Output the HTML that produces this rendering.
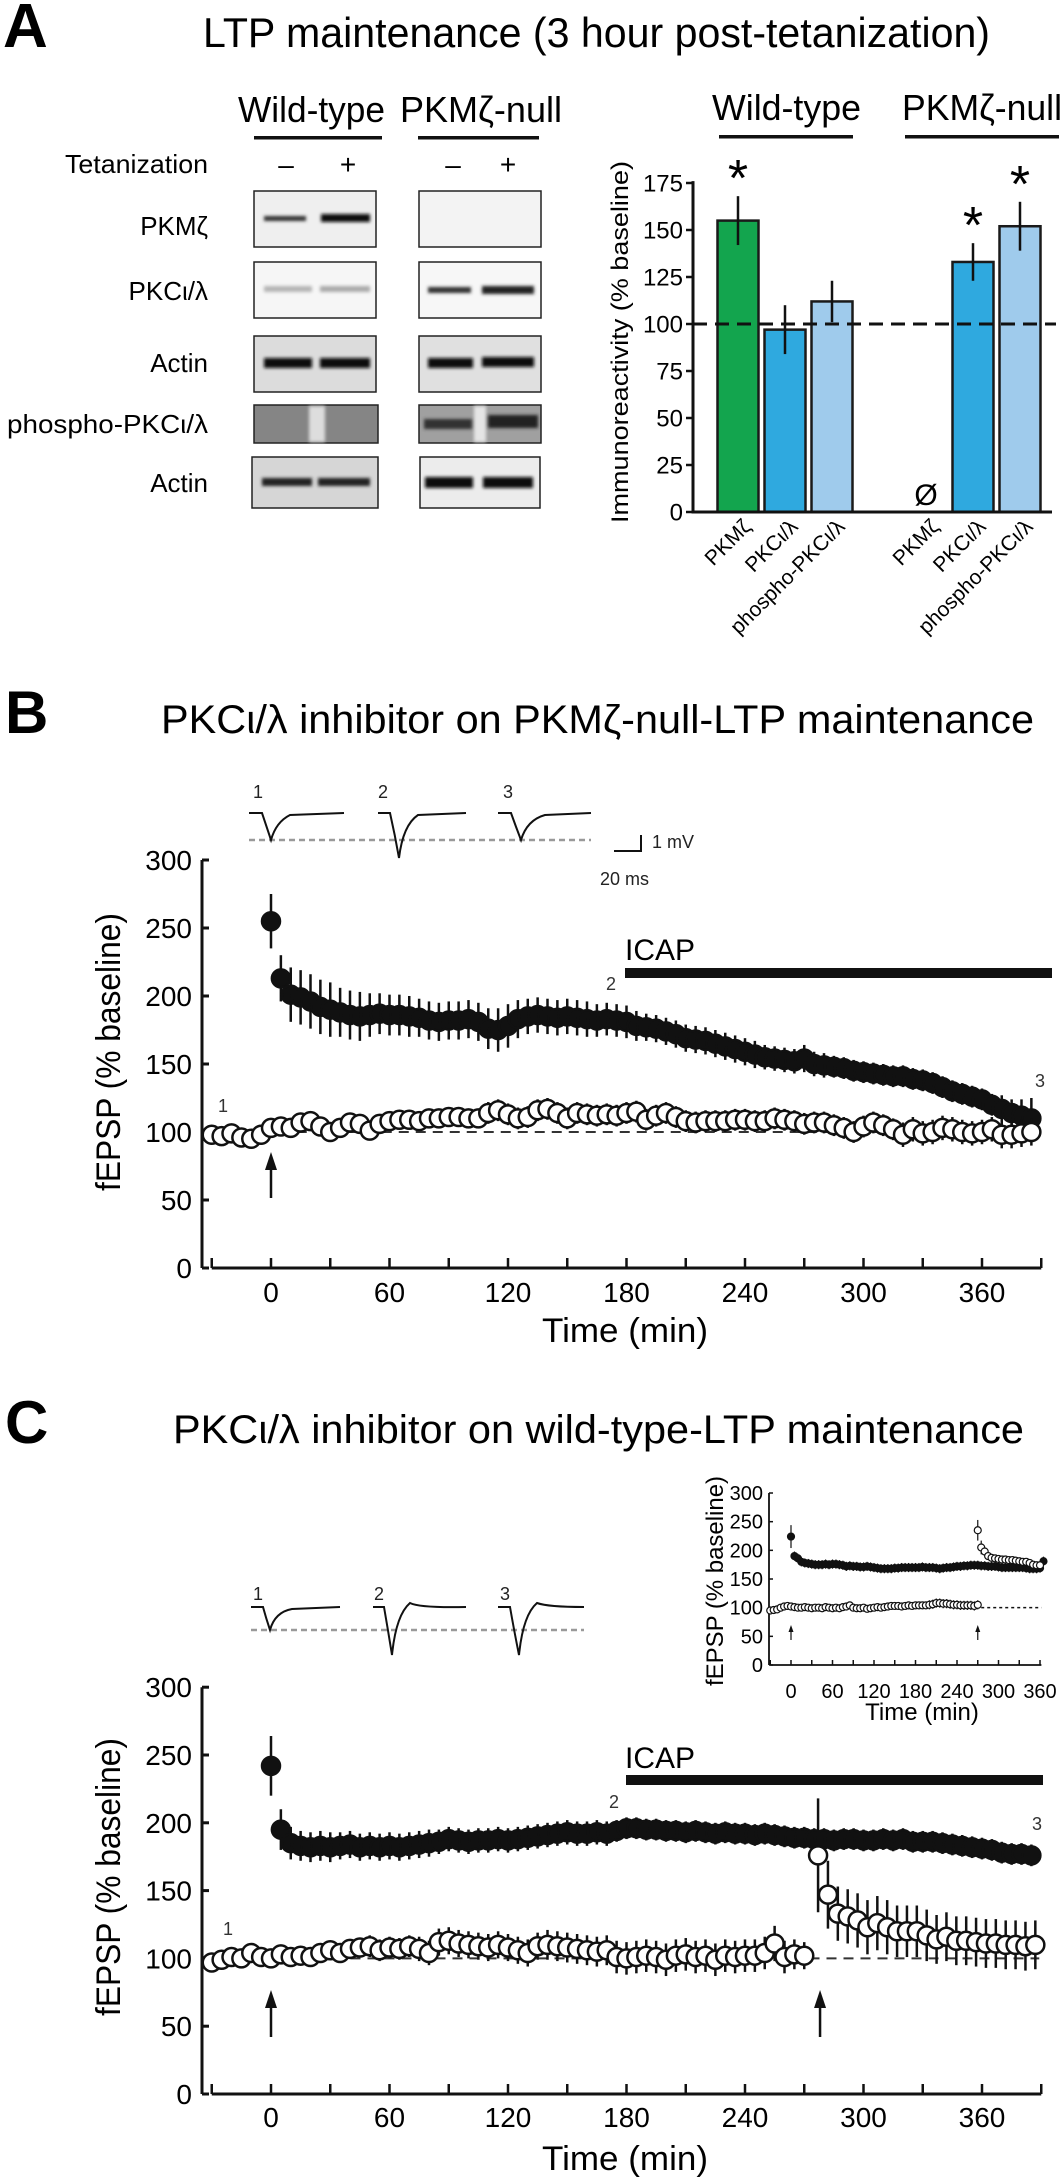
<!DOCTYPE html>
<html><head><meta charset="utf-8"><style>
html,body{margin:0;padding:0;background:#fff;}
svg{display:block;font-family:"Liberation Sans",sans-serif;}
</style></head><body>
<svg id="fig" xmlns="http://www.w3.org/2000/svg" width="1063" height="2180" viewBox="0 0 1063 2180">
<defs>
<filter id="blur2" x="-20%" y="-100%" width="140%" height="300%"><feGaussianBlur stdDeviation="1.6"/></filter>
</defs>
<text x="3" y="47" font-size="62" font-weight="bold">A</text>
<text x="203" y="47" font-size="42" textLength="787" lengthAdjust="spacingAndGlyphs">LTP maintenance (3 hour post-tetanization)</text>
<g>
<text x="238" y="122" font-size="36" textLength="147" lengthAdjust="spacingAndGlyphs">Wild-type</text>
<text x="400" y="122" font-size="36" textLength="162" lengthAdjust="spacingAndGlyphs">PKMζ-null</text>
<rect x="254" y="136" width="128" height="3.5" fill="#111"/>
<rect x="418" y="136" width="121" height="3.5" fill="#111"/>
<text x="208" y="173" font-size="26" text-anchor="end" textLength="143" lengthAdjust="spacingAndGlyphs">Tetanization</text>
<text x="286" y="174" font-size="28" text-anchor="middle">–</text>
<text x="348" y="174" font-size="28" text-anchor="middle">+</text>
<text x="453" y="174" font-size="28" text-anchor="middle">–</text>
<text x="508" y="174" font-size="28" text-anchor="middle">+</text>
<text x="208" y="235" font-size="26" text-anchor="end">PKMζ</text>
<text x="208" y="300" font-size="26" text-anchor="end">PKCι/λ</text>
<text x="208" y="372" font-size="26" text-anchor="end">Actin</text>
<text x="208" y="433" font-size="26" text-anchor="end" textLength="201" lengthAdjust="spacingAndGlyphs">phospho-PKCι/λ</text>
<text x="208" y="492" font-size="26" text-anchor="end">Actin</text>
<rect x="254" y="191" width="122" height="56" fill="#efefef" stroke="#222" stroke-width="1.5"/>
<rect x="264" y="216" width="42" height="5" fill="#333" filter="url(#blur2)"/>
<rect x="321" y="214" width="49" height="8" fill="#111" filter="url(#blur2)"/>
<rect x="419" y="191" width="122" height="56" fill="#f3f3f3" stroke="#222" stroke-width="1.5"/>
<rect x="254" y="262" width="122" height="56" fill="#f6f6f6" stroke="#222" stroke-width="1.5"/>
<rect x="264" y="286" width="48" height="6" fill="#b5b5b5" filter="url(#blur2)"/>
<rect x="320" y="286" width="50" height="6" fill="#aaa" filter="url(#blur2)"/>
<rect x="419" y="262" width="122" height="56" fill="#f7f7f7" stroke="#222" stroke-width="1.5"/>
<rect x="428" y="287" width="43" height="6" fill="#333" filter="url(#blur2)"/>
<rect x="482" y="286" width="52" height="8" fill="#222" filter="url(#blur2)"/>
<rect x="254" y="336" width="122" height="56" fill="#dcdcdc" stroke="#222" stroke-width="1.5"/>
<rect x="264" y="358" width="48" height="10" fill="#111" filter="url(#blur2)"/>
<rect x="320" y="358" width="50" height="10" fill="#111" filter="url(#blur2)"/>
<rect x="419" y="336" width="122" height="56" fill="#e0e0e0" stroke="#222" stroke-width="1.5"/>
<rect x="428" y="358" width="45" height="10" fill="#111" filter="url(#blur2)"/>
<rect x="482" y="357" width="52" height="10" fill="#111" filter="url(#blur2)"/>
<rect x="254" y="405" width="124" height="38" fill="#858585" stroke="#222" stroke-width="1.5"/>
<rect x="309" y="406" width="16" height="36" fill="#ddd" filter="url(#blur2)"/>
<rect x="419" y="405" width="122" height="38" fill="#a0a0a0" stroke="#222" stroke-width="1.5"/>
<rect x="474" y="406" width="12" height="36" fill="#e5e5e5" filter="url(#blur2)"/>
<rect x="424" y="419" width="48" height="10" fill="#333" filter="url(#blur2)"/>
<rect x="488" y="415" width="50" height="13" fill="#222" filter="url(#blur2)"/>
<rect x="252" y="457" width="126" height="51" fill="#d6d6d6" stroke="#222" stroke-width="1.5"/>
<rect x="262" y="478" width="50" height="8" fill="#222" filter="url(#blur2)"/>
<rect x="318" y="478" width="52" height="8" fill="#222" filter="url(#blur2)"/>
<rect x="420" y="457" width="120" height="51" fill="#ececec" stroke="#222" stroke-width="1.5"/>
<rect x="425" y="477" width="48" height="11" fill="#0a0a0a" filter="url(#blur2)"/>
<rect x="483" y="477" width="50" height="11" fill="#0a0a0a" filter="url(#blur2)"/>
</g>
<text x="712" y="120" font-size="36" textLength="149" lengthAdjust="spacingAndGlyphs">Wild-type</text>
<text x="902" y="120" font-size="36" textLength="160" lengthAdjust="spacingAndGlyphs">PKMζ-null</text>
<rect x="719" y="135" width="134" height="3.5" fill="#111"/>
<rect x="905" y="135" width="154" height="3.5" fill="#111"/>
<g id="barchart"></g>
<text x="5" y="733" font-size="60" font-weight="bold">B</text>
<text x="161" y="733" font-size="40" textLength="873" lengthAdjust="spacingAndGlyphs">PKCι/λ inhibitor on PKMζ-null-LTP maintenance</text>
<g fill="none" stroke="#111" stroke-width="2">
<line x1="249" y1="840" x2="591" y2="840" stroke="#999" stroke-width="2.5" stroke-dasharray="6 4"/>
<path d="M249,813 L262,813 Q266,825 271,840 Q276,822 290,815 L344,813"/>
<path d="M378,813 L390,813 Q395,835 399,858 Q403,825 418,815 L466,813"/>
<path d="M498,813 L511,813 Q516,827 521,840 Q527,820 545,815 L591,813"/>
<path d="M641,835 L641,851 L614,851"/>
</g>
<g font-size="18" fill="#222">
<text x="253" y="798">1</text>
<text x="378" y="798">2</text>
<text x="503" y="798">3</text>
<text x="652" y="848">1 mV</text>
<text x="600" y="885">20 ms</text>
</g>
<g id="plotB"></g>
<text x="5" y="1443" font-size="60" font-weight="bold">C</text>
<text x="173" y="1443" font-size="40" textLength="851" lengthAdjust="spacingAndGlyphs">PKCι/λ inhibitor on wild-type-LTP maintenance</text>
<g fill="none" stroke="#111" stroke-width="2">
<line x1="251" y1="1630" x2="584" y2="1630" stroke="#999" stroke-width="2.5" stroke-dasharray="6 4"/>
<path d="M251,1607 L263,1607 Q266,1618 270,1630 Q275,1612 292,1609 L340,1607"/>
<path d="M373,1607 L384,1607 Q388,1630 392,1655 Q396,1615 410,1603 Q420,1608 466,1607"/>
<path d="M498,1607 L510,1607 Q514,1630 519,1655 Q523,1615 537,1603 Q548,1607 584,1607"/>
</g>
<g font-size="18" fill="#222">
<text x="253" y="1600">1</text>
<text x="374" y="1600">2</text>
<text x="500" y="1600">3</text>
</g>
<g id="inset"></g>
<g id="plotC"></g>
</svg>
<script>
const barCategories = ["PKMζ","PKCι/λ","phospho-PKCι/λ","PKMζ","PKCι/λ","phospho-PKCι/λ"];
const barSlots = [0,1,2,4,5,6];
const barValues = [155, 97, 112, null, 133, 152];
const barErrors = [13, 13, 11, null, 10, 13];
const barSignificant = [true,false,false,false,true,true];
const barColors = ["#13a54e","#2fa9df","#9fcbec","#2fa9df","#2fa9df","#9fcbec"];
const barTicks = [0,25,50,75,100,125,150,175];

const bFilledT = [0,5,10,15,20,25,30,35,40,45,50,55,60,65,70,75,80,85,90,95,100,105,110,115,120,125,130,135,140,145,150,155,160,165,170,175,180,185,190,195,200,205,210,215,220,225,230,235,240,245,250,255,260,265,270,275,280,285,290,295,300,305,310,315,320,325,330,335,340,345,350,355,360,365,370,375,380,385];
const bFilledV = [255,213,201,199,196,192,190,188,186,185,186,187,186,186,185,184,182,181,182,182,183,181,176,175,178,183,185,186,185,184,185,184,183,182,183,182,181,178,177,176,174,172,169,168,167,165,163,161,159,157,155,154,153,152,154,150,149,148,147,145,144,143,142,141,141,139,138,136,133,130,128,126,124,120,117,114,112,110];
const bFilledE = [20,17,20,20,20,20,20,18,18,18,16,15,15,15,15,14,14,14,14,14,14,14,15,16,16,14,13,13,13,13,13,13,13,12,12,12,12,11,10,10,10,10,10,10,10,10,10,10,10,10,9,9,9,9,10,9,9,8,8,8,8,8,8,8,8,8,8,8,8,8,8,8,8,8,10,10,12,15];
const bOpenT = [-30,-25,-20,-15,-10,-5,0,5,10,15,20,25,30,35,40,45,50,55,60,65,70,75,80,85,90,95,100,105,110,115,120,125,130,135,140,145,150,155,160,165,170,175,180,185,190,195,200,205,210,215,220,225,230,235,240,245,250,255,260,265,270,275,280,285,290,295,300,305,310,315,320,325,330,335,340,345,350,355,360,365,370,375,380,385];
const bOpenV = [98,97,99,96,95,98,103,104,103,107,108,104,100,103,107,106,101,106,108,109,109,108,110,110,111,111,110,110,114,116,113,110,111,116,117,114,110,114,113,112,113,112,114,115,109,112,114,111,108,107,108,108,108,109,109,108,108,110,109,108,106,107,107,105,103,100,104,107,105,102,98,102,99,100,103,102,100,99,100,102,98,98,99,100];
const bOpenE = [5,5,5,5,5,5,6,6,6,6,6,6,6,6,6,6,6,7,7,7,7,7,7,7,7,7,7,7,8,8,8,8,8,8,8,8,8,8,8,8,8,8,8,8,8,8,8,8,8,8,8,8,8,8,8,8,8,8,8,8,8,8,8,8,8,8,8,8,8,8,9,9,9,9,9,9,9,9,9,9,10,10,10,10];
const bTicksY = [0,50,100,150,200,250,300];
const bTicksX = [0,60,120,180,240,300,360];

const cFilledT = [0,5,10,15,20,25,30,35,40,45,50,55,60,65,70,75,80,85,90,95,100,105,110,115,120,125,130,135,140,145,150,155,160,165,170,175,180,185,190,195,200,205,210,215,220,225,230,235,240,245,250,255,260,265,270,275,280,285,290,295,300,305,310,315,320,325,330,335,340,345,350,355,360,365,370,375,380,385];
const cFilledV = [242,195,185,183,182,183,182,183,184,182,183,182,183,182,183,184,185,186,188,187,186,187,187,188,187,188,189,190,191,192,193,192,192,193,192,194,196,196,195,195,194,194,193,194,193,192,193,192,192,191,192,191,190,189,189,188,188,187,188,188,187,187,188,187,188,186,186,186,185,184,183,182,181,180,178,177,177,176];
const cFilledE = [22,15,12,11,11,11,11,10,10,10,10,10,10,10,10,10,10,9,9,9,9,9,9,9,9,9,9,9,9,9,9,9,9,9,9,8,8,8,8,8,8,8,8,8,8,8,8,8,8,8,8,8,8,8,8,8,8,8,8,8,8,8,8,8,8,8,8,8,8,8,8,8,8,8,8,8,8,8];
const cOpenPreT = [-30,-25,-20,-15,-10,-5,0,5,10,15,20,25,30,35,40,45,50,55,60,65,70,75,80,85,90,95,100,105,110,115,120,125,130,135,140,145,150,155,160,165,170,175,180,185,190,195,200,205,210,215,220,225,230,235,240,245,250,255,260,265,270];
const cOpenPreV = [97,99,101,100,104,101,100,103,101,102,101,104,106,104,107,108,109,106,108,107,109,107,104,112,113,111,110,109,108,110,108,106,104,109,110,109,108,107,106,105,106,101,100,101,102,101,99,102,103,101,102,99,102,101,102,102,104,111,101,103,102];
const cOpenPreE = [4,4,4,4,5,5,5,5,6,6,6,6,7,7,7,7,8,8,8,8,8,9,9,10,10,10,10,10,10,10,10,10,10,10,11,11,11,11,11,11,11,12,12,12,12,12,12,12,12,12,12,12,12,12,12,12,12,13,12,11,10];
const cOpenPostT = [277,282,287,292,297,302,307,312,317,322,327,332,337,342,347,352,357,362,367,372,377,382,387];
const cOpenPostV = [176,147,133,131,128,123,126,123,120,120,120,117,114,116,113,113,112,111,111,110,110,109,110];
const cOpenPostE = [42,25,20,20,20,20,20,20,19,19,19,19,18,18,18,18,18,18,18,18,18,18,18];

const iFilledT = [0,5,10,15,20,25,30,35,40,45,50,55,60,65,70,75,80,85,90,95,100,105,110,115,120,125,130,135,140,145,150,155,160,165,170,175,180,185,190,195,200,205,210,215,220,225,230,235,240,245,250,255,260,265,270,275,280,285,290,295,300,305,310,315,320,325,330,335,340,345,350,355,360,365];
const iFilledV = [224,190,186,180,178,177,176,175,175,175,176,175,176,176,175,174,172,173,172,172,171,171,172,171,170,169,168,168,168,168,169,169,170,170,170,170,170,170,171,170,170,170,169,168,169,170,170,171,172,172,173,173,174,174,174,173,173,172,172,172,171,170,170,170,170,170,170,170,169,168,168,168,169,181];
const iOpenPreT = [-30,-25,-20,-15,-10,-5,0,5,10,15,20,25,30,35,40,45,50,55,60,65,70,75,80,85,90,95,100,105,110,115,120,125,130,135,140,145,150,155,160,165,170,175,180,185,190,195,200,205,210,215,220,225,230,235,240,245,250,255,260,265,270];
const iOpenPreV = [95,96,97,100,102,103,102,101,100,100,101,100,99,100,100,99,101,100,99,100,99,101,102,104,100,99,99,100,98,99,100,101,100,101,102,103,103,103,102,103,104,103,104,104,104,104,105,106,108,108,107,107,106,105,105,104,104,104,104,103,105];
const iOpenPostT = [270,275,280,285,290,295,300,305,310,315,320,325,330,335,340,345,350,355,360];
const iOpenPostV = [235,205,198,190,187,186,185,184,184,183,183,182,181,180,180,178,175,174,174];
const iTicksY = [0,50,100,150,200,250,300];
const iTicksX = [0,60,120,180,240,300,360];

const NS = "http://www.w3.org/2000/svg";
function mk(tag, attrs, parent, name) {
  const el = document.createElementNS(NS, tag);
  for (const k in attrs) el.setAttribute(k, attrs[k]);
  
  
  parent.appendChild(el);
  return el;
}
function txt(s, attrs, parent, name) { const t = mk('text', attrs, parent, name); t.textContent = s; return t; }

(function(){
  const g = document.getElementById('barchart');
  const yA = v => 512 - v * 1.88;
  const xA = i => 738 + 47 * i;
  const bw = 41;
  txt("Immunoreactivity (% baseline)", {x:0, y:0, 'font-size':24, 'text-anchor':'middle', transform:'translate(628,342) rotate(-90)', textLength:362, lengthAdjust:'spacingAndGlyphs'}, g, 'y-axis-title');
  barTicks.forEach(v => {
    mk('line', {x1:686, x2:693, y1:yA(v), y2:yA(v), stroke:'#111', 'stroke-width':2.5}, g, 'y-tick');
    txt(String(v), {x:683, y:yA(v)+8.5, 'font-size':24, 'text-anchor':'end'}, g, 'y-tick-label');
  });
  barValues.forEach((v, k) => {
    const cx = xA(barSlots[k]);
    if (v === null) {
      txt("Ø", {x:cx, y:yA(0)-7, 'font-size':30, 'text-anchor':'middle'}, g, 'null-marker');
      return;
    }
    mk('rect', {x:cx-bw/2, y:yA(v), width:bw, height:yA(0)-yA(v), fill:barColors[k], stroke:'#1a1a1a', 'stroke-width':2.5}, g, 'bar-' + (k+1));
  });
  mk('line', {x1:693, x2:1056, y1:yA(100), y2:yA(100), stroke:'#111', 'stroke-width':3, 'stroke-dasharray':'14 8'}, g, 'baseline-100');
  barValues.forEach((v, k) => {
    if (v === null) return;
    const cx = xA(barSlots[k]);
    mk('line', {x1:cx, x2:cx, y1:yA(v+barErrors[k]), y2:yA(v-barErrors[k]), stroke:'#111', 'stroke-width':2.5}, g, 'error-bar');
    if (barSignificant[k]) txt("*", {x:cx, y:yA(v+barErrors[k]), 'font-size':52, 'text-anchor':'middle'}, g, 'significance-asterisk');
  });
  mk('line', {x1:693, x2:693, y1:yA(176), y2:yA(0)+1.5, stroke:'#111', 'stroke-width':3}, g, 'y-axis');
  mk('line', {x1:691.5, x2:1052, y1:yA(0), y2:yA(0), stroke:'#111', 'stroke-width':3}, g, 'x-axis');
  barCategories.forEach((c, k) => {
    const cx = xA(barSlots[k]) + 14;
    txt(c, {x:0, y:0, 'font-size':21, 'text-anchor':'end', transform:'translate(' + cx + ',528) rotate(-45)'}, g, 'x-category-label');
  });
})();

function drawSeries(g, T, V, E, xs, ys, filled, r, sw, name) {
  if (E) T.forEach((t, i) => {
    mk('line', {x1:xs(t), x2:xs(t), y1:ys(V[i]+E[i]), y2:ys(V[i]-E[i]), stroke:'#111', 'stroke-width':sw}, g, name + '-error');
  });
  T.forEach((t, i) => {
    mk('circle', {cx:xs(t), cy:ys(V[i]), r:r, fill: filled ? '#111' : '#fff', stroke:'#111', 'stroke-width':sw}, g, name + '-point');
  });
}
function arrow(g, x, y1, y2, hw, hh, sw) {
  mk('line', {x1:x, x2:x, y1:y1, y2:y2+hh-1, stroke:'#111', 'stroke-width':sw}, g, 'stimulus-arrow');
  mk('path', {d:'M'+(x-hw)+','+(y2+hh)+' L'+x+','+y2+' L'+(x+hw)+','+(y2+hh)+' Z', fill:'#111'}, g, 'stimulus-arrowhead');
}
function mainAxes(g, xs, ys, labY, titleY, ylabCY) {
  mk('line', {x1:202, x2:202, y1:ys(300), y2:ys(0), stroke:'#111', 'stroke-width':3}, g, 'y-axis');
  bTicksY.forEach(v => {
    mk('line', {x1:202, x2:209, y1:ys(v), y2:ys(v), stroke:'#111', 'stroke-width':3}, g, 'y-tick');
    txt(String(v), {x:192, y:ys(v)+10, 'font-size':28, 'text-anchor':'end'}, g, 'y-tick-label');
  });
  mk('line', {x1:xs(-30), x2:xs(390), y1:ys(0), y2:ys(0), stroke:'#111', 'stroke-width':3}, g, 'x-axis');
  for (let t = -30; t <= 390; t += 30) {
    mk('line', {x1:xs(t), x2:xs(t), y1:ys(0), y2:ys(0)-10, stroke:'#111', 'stroke-width':2.5}, g, 'x-tick');
  }
  bTicksX.forEach(t => {
    txt(String(t), {x:xs(t), y:labY, 'font-size':28, 'text-anchor':'middle'}, g, 'x-tick-label');
  });
  txt("Time (min)", {x:625, y:titleY, 'font-size':34, 'text-anchor':'middle', textLength:166, lengthAdjust:'spacingAndGlyphs'}, g, 'x-axis-title');
  txt("fEPSP (% baseline)", {x:0, y:0, 'font-size':34, 'text-anchor':'middle', transform:'translate(120,' + ylabCY + ') rotate(-90)', textLength:278, lengthAdjust:'spacingAndGlyphs'}, g, 'y-axis-title');
}

(function(){
  const g = document.getElementById('plotB');
  const xs = t => 271 + t * 1.975;
  const ys = v => 1268 - v * 1.36;
  mainAxes(g, xs, ys, 1302, 1342, 1052);
  mk('line', {x1:xs(-30), x2:xs(389), y1:ys(100), y2:ys(100), stroke:'#333', 'stroke-width':2, 'stroke-dasharray':'10 7'}, g, 'baseline-100');
  txt("ICAP", {x:625, y:960, 'font-size':30}, g, 'icap-label');
  mk('rect', {x:625, y:968, width:427, height:10, fill:'#111'}, g, 'icap-bar');
  drawSeries(g, bFilledT, bFilledV, bFilledE, xs, ys, true, 9, 2.5, 'filled-series');
  drawSeries(g, bOpenT, bOpenV, bOpenE, xs, ys, false, 9, 2.5, 'open-series');
  txt("1", {x:218, y:1112, 'font-size':18, fill:'#333'}, g, 'timepoint-1');
  txt("2", {x:606, y:990, 'font-size':18, fill:'#333'}, g, 'timepoint-2');
  txt("3", {x:1035, y:1087, 'font-size':18, fill:'#333'}, g, 'timepoint-3');
  arrow(g, xs(0), 1198, 1152, 6, 18, 2.5);
})();

(function(){
  const g = document.getElementById('plotC');
  const xs = t => 271 + t * 1.975;
  const ys = v => 2094 - v * 1.356;
  mainAxes(g, xs, ys, 2127, 2170, 1877);
  mk('line', {x1:xs(-20), x2:xs(389), y1:ys(100), y2:ys(100), stroke:'#333', 'stroke-width':2, 'stroke-dasharray':'10 7'}, g, 'baseline-100');
  txt("ICAP", {x:625, y:1768, 'font-size':30}, g, 'icap-label');
  mk('rect', {x:626, y:1775, width:417, height:10, fill:'#111'}, g, 'icap-bar');
  drawSeries(g, cFilledT, cFilledV, cFilledE, xs, ys, true, 9, 2.5, 'filled-series');
  drawSeries(g, cOpenPreT, cOpenPreV, cOpenPreE, xs, ys, false, 9, 2.5, 'open-series-pre');
  drawSeries(g, cOpenPostT, cOpenPostV, cOpenPostE, xs, ys, false, 9, 2.5, 'open-series-post');
  txt("1", {x:223, y:1935, 'font-size':18, fill:'#333'}, g, 'timepoint-1');
  txt("2", {x:609, y:1808, 'font-size':18, fill:'#333'}, g, 'timepoint-2');
  txt("3", {x:1032, y:1830, 'font-size':18, fill:'#333'}, g, 'timepoint-3');
  arrow(g, xs(0), 2037, 1990, 6, 18, 2.5);
  arrow(g, xs(278), 2037, 1990, 6, 18, 2.5);
})();

(function(){
  const g = document.getElementById('inset');
  const xs = t => 791 + t * 0.6917;
  const ys = v => 1665 - v * 0.5733;
  mk('line', {x1:769, x2:769, y1:ys(300), y2:ys(0), stroke:'#111', 'stroke-width':1.8}, g, 'inset-y-axis');
  iTicksY.forEach(v => {
    mk('line', {x1:769, x2:773, y1:ys(v), y2:ys(v), stroke:'#111', 'stroke-width':1.5}, g, 'inset-y-tick');
    txt(String(v), {x:763, y:ys(v)+7, 'font-size':20, 'text-anchor':'end'}, g, 'inset-y-tick-label');
  });
  mk('line', {x1:xs(-30), x2:xs(362), y1:ys(0), y2:ys(0), stroke:'#111', 'stroke-width':1.8}, g, 'inset-x-axis');
  for (let t = -30; t <= 360; t += 30) {
    mk('line', {x1:xs(t), x2:xs(t), y1:ys(0), y2:ys(0)-5, stroke:'#111', 'stroke-width':1.5}, g, 'inset-x-tick');
  }
  iTicksX.forEach(t => {
    txt(String(t), {x:xs(t), y:1698, 'font-size':20, 'text-anchor':'middle'}, g, 'inset-x-tick-label');
  });
  txt("Time (min)", {x:922, y:1720, 'font-size':24, 'text-anchor':'middle'}, g, 'inset-x-axis-title');
  txt("fEPSP (% baseline)", {x:0, y:0, 'font-size':24, 'text-anchor':'middle', transform:'translate(723,1581) rotate(-90)', textLength:210, lengthAdjust:'spacingAndGlyphs'}, g, 'inset-y-axis-title');
  mk('line', {x1:xs(275), x2:xs(362), y1:ys(100), y2:ys(100), stroke:'#111', 'stroke-width':1.5, 'stroke-dasharray':'3 3'}, g, 'inset-baseline-100');
  const iFE = iFilledV.map((v, i) => i === 0 ? 20 : 8);
  drawSeries(g, iFilledT, iFilledV, iFE, xs, ys, true, 3.5, 1.2, 'inset-filled');
  const iPreE = iOpenPreV.map((v, i) => i > 45 ? 8 : 4);
  drawSeries(g, iOpenPreT, iOpenPreV, iPreE, xs, ys, false, 3.5, 1.2, 'inset-open-pre');
  const iPostE = iOpenPostV.map((v, i) => i === 0 ? 18 : (i === 1 ? 12 : 6));
  drawSeries(g, iOpenPostT, iOpenPostV, iPostE, xs, ys, false, 3.5, 1.2, 'inset-open-post');
  arrow(g, xs(0), 1640, 1625, 2.5, 7, 1.2);
  arrow(g, xs(270), 1640, 1625, 2.5, 7, 1.2);
})();
</script>
</body></html>
